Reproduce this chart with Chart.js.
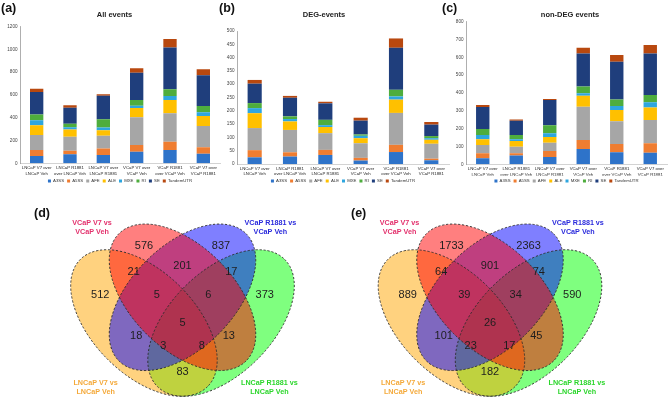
<!DOCTYPE html>
<html>
<head>
<meta charset="utf-8">
<script src="https://cdn.jsdelivr.net/npm/chart.js@4.4.1/dist/chart.umd.min.js"></script>
<style>
  html,body{margin:0;padding:0;background:#fff;}
  body{width:668px;height:400px;overflow:hidden;position:relative;font-family:"Liberation Sans",Arial,sans-serif;}
  canvas{position:absolute;}
  .t{position:absolute;transform:translate(-50%,-50%);white-space:nowrap;font-weight:bold;color:#222;font-size:7.5px;}
  .p{position:absolute;font-weight:bold;color:#111;font-size:12.5px;line-height:1;}
</style>
</head>
<body>
<canvas id="ca" width="224" height="194" style="left:0;top:0"></canvas>
<canvas id="cb" width="230" height="194" style="left:220px;top:0"></canvas>
<canvas id="cc" width="222" height="194" style="left:446px;top:0"></canvas>
<canvas id="cd" width="334" height="205" style="left:0;top:195px"></canvas>
<canvas id="ce" width="334" height="205" style="left:334px;top:195px"></canvas>

<div class="p" style="left:1px;top:2px">(a)</div>
<div class="p" style="left:219px;top:2px">(b)</div>
<div class="p" style="left:442px;top:2px">(c)</div>
<div class="p" style="left:34px;top:207px">(d)</div>
<div class="p" style="left:351px;top:207px">(e)</div>
<div class="t" style="left:114.5px;top:13.5px">All events</div>
<div class="t" style="left:324px;top:14px">DEG-events</div>
<div class="t" style="left:570px;top:14px">non-DEG events</div>

<script>
// ---------------- DATA ----------------
const categories = [
  ['LNCaP V7 over', 'LNCaP Veh'],
  ['LNCaP R1881', 'over LNCaP Veh'],
  ['LNCaP V7 over', 'LNCaP R1881'],
  ['VCaP V7 over', 'VCaP Veh'],
  ['VCaP R1881', 'over VCaP Veh'],
  ['VCaP V7 over', 'VCaP R1881']
];
const eventTypes = ['A3SS', 'A5SS', 'AFE', 'ALE', 'MXE', 'RI', 'SE', 'TandemUTR'];

// rows follow eventTypes, columns follow categories
const allEvents = [
  [64, 79, 73, 102, 117, 84],     // A3SS
  [53, 32, 58, 59, 73, 57],       // A5SS
  [131, 122, 111, 243, 249, 187], // AFE
  [87, 64, 49, 82, 117, 88],      // ALE
  [44, 20, 24, 20, 35, 32],       // MXE
  [49, 30, 72, 50, 59, 55],       // RI
  [198, 142, 207, 240, 368, 271], // SE
  [29, 21, 12, 40, 74, 52]        // TandemUTR
];
const degEvents = [
  [25, 28, 34, 13, 45, 14],
  [27, 16, 19, 10, 27, 6],
  [83, 84, 63, 55, 120, 56],
  [56, 32, 23, 19, 50, 15],
  [19, 9, 7, 9, 12, 6],
  [19, 10, 20, 5, 25, 8],
  [73, 70, 62, 52, 158, 43],
  [14, 7, 6, 11, 35, 10]
];
const nonDegEvents = [
  [34, 50, 41, 86, 67, 65],
  [28, 12, 34, 50, 47, 53],
  [46, 37, 46, 187, 127, 131],
  [32, 32, 32, 62, 64, 69],
  [24, 9, 21, 13, 22, 30],
  [34, 24, 45, 38, 37, 41],
  [123, 81, 142, 186, 212, 233],
  [12, 7, 5, 32, 37, 47]
];
const allTicks = [0, 200, 400, 600, 800, 1000, 1200];
const degTicks = [0, 50, 100, 150, 200, 250, 300, 350, 400, 450, 500];
const nonDegTicks = [0, 100, 200, 300, 400, 500, 600, 700, 800];

// Venn sets: 0 VCaP V7, 1 VCaP R1881, 2 LNCaP V7, 3 LNCaP R1881
const vennSetNames = [
  ['VCaP V7 vs', 'VCaP Veh'],
  ['VCaP R1881 vs', 'VCaP Veh'],
  ['LNCaP V7 vs', 'LNCaP Veh'],
  ['LNCaP R1881 vs', 'LNCaP Veh']
];
// region order: V7only, R1881only, V7&LV7, V7&R1881, R1881&LR1881, LV7only, V7&R1881&LV7,
// V7&R1881&LR1881, LR1881only, all, R1881&LV7, V7&LR1881, R1881&LV7&LR1881, V7&LV7&LR1881, LV7&LR1881
const vennCountsD = [576, 837, 21, 201, 17, 512, 5, 6, 373, 5, 18, 13, 3, 8, 83];
const vennCountsE = [1733, 2363, 64, 901, 74, 889, 39, 34, 590, 26, 101, 45, 23, 17, 182];

// ---------------- LAYOUT / STYLE ----------------
const FONT = '"Liberation Sans", Arial, sans-serif';
const seriesColors = ['#2e73c9', '#ef7d31', '#a6a6a6', '#ffc000', '#2ea6df', '#4ead3d', '#1f3e7c', '#b8480f'];

const vennRegionX = [0.35, 0.65, 0.31, 0.5, 0.69, 0.18, 0.40, 0.60, 0.82, 0.5, 0.32, 0.68, 0.425, 0.575, 0.5];
const vennRegionY = [0.77, 0.77, 0.67, 0.69, 0.67, 0.58, 0.58, 0.58, 0.58, 0.47, 0.42, 0.42, 0.38, 0.38, 0.28];
const vennEllipses = [
  {cx: 0.50, cy: 0.57, a: 0.35, b: 0.2, rot: Math.PI / 4},
  {cx: 0.50, cy: 0.57, a: 0.35, b: 0.2, rot: -Math.PI / 4},
  {cx: 0.35, cy: 0.47, a: 0.35, b: 0.2, rot: Math.PI / 4},
  {cx: 0.65, cy: 0.47, a: 0.35, b: 0.2, rot: -Math.PI / 4}
];
const vennFills = ['rgba(255,0,0,0.5)', 'rgba(0,0,255,0.5)', 'rgba(255,165,0,0.5)', 'rgba(0,255,0,0.5)'];
const vennDrawOrder = [3, 2, 1, 0];
const vennSetColors = ['#e3306c', '#2b2bdc', '#f4a93a', '#2cd62c'];
const vennSetX = [0.148, 0.842, 0.162, 0.838];
const vennSetY = [0.842, 0.842, 0.219, 0.219];

function barChart(id, rows, ticks, layout) {
  return new Chart(document.getElementById(id), {
    type: 'bar',
    data: {
      labels: categories,
      datasets: eventTypes.map((t, i) => ({
        label: t,
        data: rows[i],
        backgroundColor: seriesColors[i],
        borderWidth: 0,
        barPercentage: 0.4,
        categoryPercentage: 1
      }))
    },
    options: {
      responsive: false,
      animation: false,
      events: [],
      layout: {padding: {left: layout.padL, right: layout.padR, top: layout.top, bottom: 0.85}},
      plugins: {
        title: {display: false},
        tooltip: {enabled: false},
        legend: {
          position: 'bottom',
          fullSize: false,
          labels: {boxWidth: 3, boxHeight: 3, padding: 3, color: '#333', font: {size: 4.3, family: FONT}}
        }
      },
      scales: {
        x: {
          stacked: true,
          grid: {display: false, drawTicks: false},
          border: {color: '#c8c8c8', width: 0.8},
          ticks: {color: '#222', padding: 1.5, maxRotation: 0, autoSkip: false,
                  font: {size: 4.3, family: FONT, lineHeight: 1.35}},
          afterFit(s) { s.height = layout.xh; }
        },
        y: {
          stacked: true,
          min: ticks[0],
          max: ticks[ticks.length - 1],
          grid: {display: false, drawTicks: false},
          border: {color: '#9a9a9a', width: 0.8},
          ticks: {color: '#444', padding: 2.5, autoSkip: false, stepSize: ticks[1] - ticks[0],
                  font: {size: 4.6, family: FONT}, callback: v => String(v)},
          afterFit(s) { s.width = layout.yw; }
        }
      }
    }
  });
}

barChart('ca', allEvents, allTicks, {padL: 5, yw: 15, padR: 4, top: 26.7, xh: 12.55});
barChart('cb', degEvents, degTicks, {padL: 2, yw: 15, padR: 1, top: 31, xh: 11.85});
barChart('cc', nonDegEvents, nonDegTicks, {padL: 5, yw: 15, padR: 1, top: 21.7, xh: 11.55});

const vennPlugin = {
  id: 'venn',
  beforeDatasetsDraw(chart) {
    const {ctx, scales: {x, y}} = chart;
    const ux = x.getPixelForValue(1) - x.getPixelForValue(0);
    const uy = y.getPixelForValue(0) - y.getPixelForValue(1);
    ctx.save();
    vennDrawOrder.forEach(i => {
      const e = vennEllipses[i];
      ctx.beginPath();
      ctx.ellipse(x.getPixelForValue(e.cx), y.getPixelForValue(e.cy), e.a * ux, e.b * uy, e.rot, 0, Math.PI * 2);
      ctx.fillStyle = vennFills[i];
      ctx.fill();
    });
    ctx.setLineDash([2.2, 1.8]);
    ctx.lineWidth = 0.9;
    ctx.strokeStyle = '#2a2a2a';
    vennDrawOrder.forEach(i => {
      const e = vennEllipses[i];
      ctx.beginPath();
      ctx.ellipse(x.getPixelForValue(e.cx), y.getPixelForValue(e.cy), e.a * ux, e.b * uy, e.rot, 0, Math.PI * 2);
      ctx.stroke();
    });
    ctx.restore();
  },
  afterDatasetsDraw(chart) {
    const {ctx, scales: {x, y}} = chart;
    const counts = chart.options.plugins.venn.counts;
    const meta = chart.getDatasetMeta(0);
    ctx.save();
    ctx.textAlign = 'center';
    ctx.textBaseline = 'middle';
    ctx.fillStyle = '#1e1e1e';
    ctx.font = '11px ' + FONT;
    meta.data.forEach((pt, i) => ctx.fillText(String(counts[i]), pt.x, pt.y));
    ctx.font = 'bold 7.2px ' + FONT;
    vennSetNames.forEach((lines, i) => {
      ctx.fillStyle = vennSetColors[i];
      const px = x.getPixelForValue(vennSetX[i]);
      const py = y.getPixelForValue(vennSetY[i]);
      ctx.fillText(lines[0], px, py - 4.2);
      ctx.fillText(lines[1], px, py + 4.2);
    });
    ctx.restore();
  }
};

function vennChart(id, counts, cxLocal, cyLocal, w, h, unit) {
  return new Chart(document.getElementById(id), {
    type: 'scatter',
    data: {
      datasets: [{
        data: vennRegionX.map((vx, i) => ({x: vx, y: vennRegionY[i]})),
        pointRadius: 0,
        pointHoverRadius: 0
      }]
    },
    options: {
      responsive: false,
      animation: false,
      events: [],
      layout: {padding: 0},
      plugins: {legend: {display: false}, tooltip: {enabled: false}, venn: {counts: counts}},
      scales: {
        x: {display: false, min: 0.5 - cxLocal / unit, max: 0.5 + (w - cxLocal) / unit},
        y: {display: false, min: 0.47 - (h - cyLocal) / unit, max: 0.47 + cyLocal / unit}
      }
    },
    plugins: [vennPlugin]
  });
}

vennChart('cd', vennCountsD, 182.5, 128, 334, 205, 257);
vennChart('ce', vennCountsE, 156, 128, 334, 205, 257);
</script>
</body>
</html>
